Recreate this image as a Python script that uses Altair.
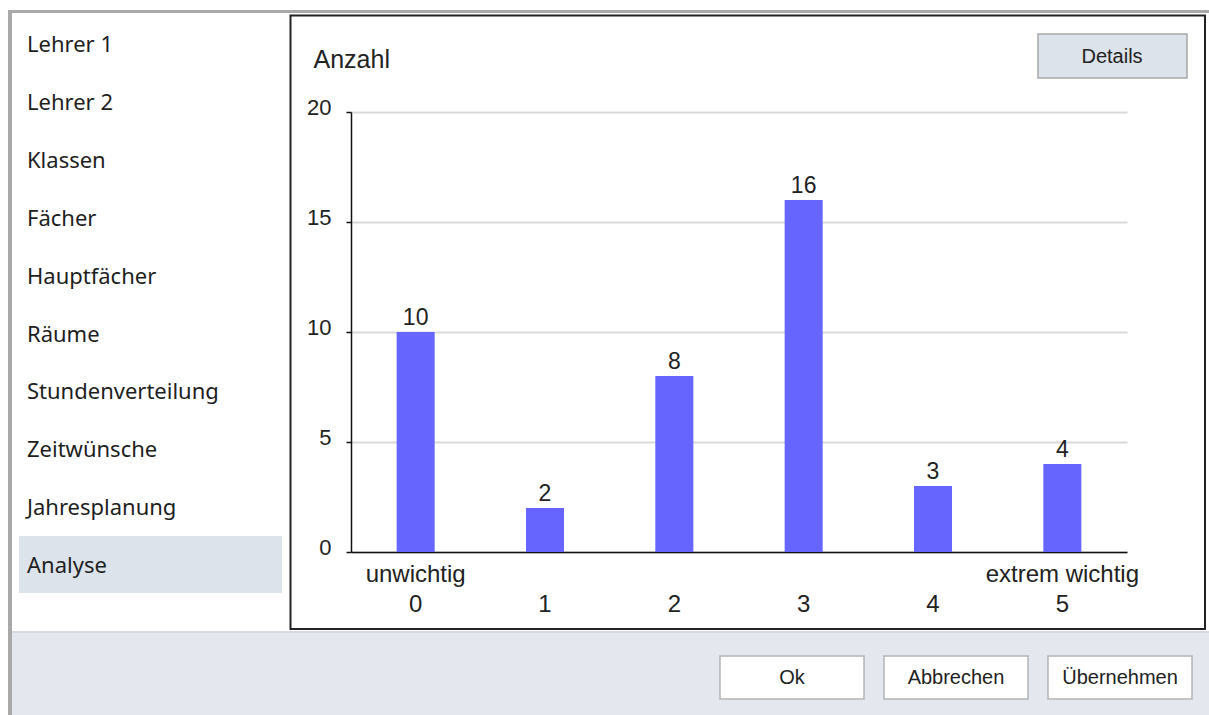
import altair as alt
import pandas as pd

# ---- data ----
categories = [0, 1, 2, 3, 4, 5]
counts = [10, 2, 8, 16, 3, 4]
end_labels = {0: "unwichtig", 5: "extrem wichtig"}
y_ticks = [0, 5, 10, 15, 20]
y_title = "Anzahl"
menu_items = ["Lehrer 1", "Lehrer 2", "Klassen", "Fächer", "Hauptfächer", "Räume",
              "Stundenverteilung", "Zeitwünsche", "Jahresplanung", "Analyse"]
selected_item = "Analyse"
buttons = ["Ok", "Abbrechen", "Übernehmen"]
details_label = "Details"

# ---- layout (window pixels) ----
W, H = 1209, 715
OX, OY = 351, 112          # plot origin
PW, PH = 776, 440          # plot size
CHART_FONT = "Liberation Sans"
UI_FONT = "Noto Sans"
TXT = "#222222"

one = pd.DataFrame({"k": [0]})


def rect(x1, y1, x2, y2, fill=None, stroke=None, sw=1):
    kw = {"fill": fill if fill else "transparent"}
    if stroke:
        kw["stroke"] = stroke
        kw["strokeWidth"] = sw
    return alt.Chart(one).mark_rect(**kw).encode(
        x=alt.value(x1 - OX), x2=alt.value(x2 - OX),
        y=alt.value(y1 - OY), y2=alt.value(y2 - OY))


def label(text, x, y, size, font, align="center", color=TXT):
    return alt.Chart(one).mark_text(
        font=font, fontSize=size, align=align, baseline="middle", color=color
    ).encode(x=alt.value(x - OX), y=alt.value(y - OY), text=alt.value(text))


layers = []
# window border
layers.append(rect(8, 10, W, 13, fill="#a9a9a9"))
layers.append(rect(8, 10, 12, H, fill="#a9a9a9"))
# bottom button band
layers.append(rect(12, 631, W, H, fill="#e4e8ee"))
layers.append(rect(12, 631, W, 633, fill="#d5dae0"))
# chart panel border
layers.append(rect(290.5, 15.5, 1205, 629, stroke="#222222", sw=2))
# selected menu highlight
sel_i = menu_items.index(selected_item)
layers.append(rect(19, 536 - (9 - sel_i) * 58, 282, 593 - (9 - sel_i) * 58, fill="#dce3ea"))

# menu items
menu_df = pd.DataFrame({"item": menu_items, "i": list(range(len(menu_items)))})
layers.append(
    alt.Chart(menu_df).transform_calculate(py=f"{45 - OY} + datum.i * 57.9")
    .mark_text(font=UI_FONT, fontSize=22, align="left", baseline="middle", color="#1e1e1e")
    .encode(x=alt.value(27 - OX), y=alt.Y("py:Q", scale=None, axis=None), text="item:N")
)

# Details button
layers.append(rect(1038, 34, 1187, 78, fill="#dce3ea", stroke="#a8a8a8", sw=1.5))
layers.append(label(details_label, 1112, 57, 20, CHART_FONT))

# bottom buttons
btn_x = [(720, 864), (884, 1028), (1048, 1192)]
for name, (a, b) in zip(buttons, btn_x):
    layers.append(rect(a, 656, b, 699, fill="#ffffff", stroke="#b4b4b4", sw=1.5))
    layers.append(label(name, (a + b) / 2, 677.5, 20, CHART_FONT))

# ---- bar chart ----
df = pd.DataFrame({"wert": categories, "anzahl": counts})
parts = []
for k, v in end_labels.items():
    parts.append(f"datum.value == {k} ? ['{v}', datum.label]")
label_expr = " : ".join(parts) + " : ['', datum.label]"

x_enc = alt.X(
    "wert:O",
    scale=alt.Scale(paddingInner=0.706, paddingOuter=0.353),
    axis=alt.Axis(title=None, labelAngle=0, labelExpr=label_expr,
                  labelFont=CHART_FONT, labelFontSize=24, labelColor=TXT,
                  labelLineHeight=30, labelPadding=10, labelBaseline="top",
                  ticks=False, grid=False, domainColor="#111111", domainWidth=1.5),
)
y_enc = alt.Y(
    "anzahl:Q",
    scale=alt.Scale(domain=[0, 20], nice=False),
    axis=alt.Axis(values=y_ticks, title=y_title, titleAngle=0, titleAlign="left",
                  titleBaseline="middle", titleX=313 - OX, titleY=59 - OY,
                  titleFont=CHART_FONT, titleFontSize=25, titleFontWeight="normal",
                  titleColor=TXT, labelFont=CHART_FONT, labelFontSize=22,
                  labelColor=TXT, labelPadding=15, labelOffset=-5,
                  tickSize=5, tickColor="#111111", tickWidth=1.5,
                  domainColor="#111111", domainWidth=1.5,
                  gridColor="#d9d9d9", gridWidth=2),
)
bars = alt.Chart(df).mark_bar(color="#6666ff").encode(x=x_enc, y=y_enc)
bar_text = alt.Chart(df).mark_text(
    font=CHART_FONT, fontSize=23, baseline="alphabetic", dy=-7, color=TXT
).encode(x="wert:O", y="anzahl:Q", text="anzahl:Q")

layers += [bars, bar_text]

chart = alt.layer(*layers).properties(
    width=PW, height=PH,
    autosize=alt.AutoSizeParams(type="none"),
    padding={"left": OX, "top": OY, "right": W - OX - PW, "bottom": H - OY - PH},
    background="white",
).configure_view(stroke=None)

chart.save("out.html", embed_options={"renderer": "svg", "actions": False})
